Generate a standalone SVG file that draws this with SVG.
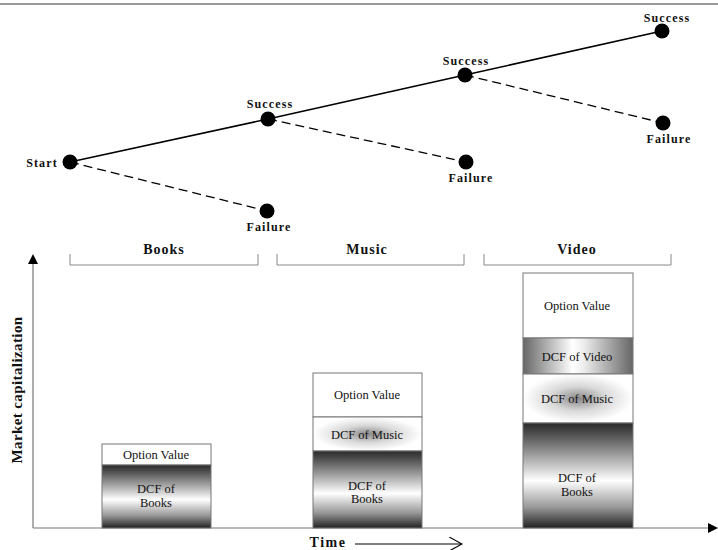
<svg xmlns="http://www.w3.org/2000/svg" width="718" height="550" viewBox="0 0 718 550">
<style>
.lbl{font-family:"Liberation Serif","Times New Roman",serif;font-weight:bold;font-size:12px;letter-spacing:1.1px;fill:#111;text-anchor:middle}
.hdr{font-family:"Liberation Serif","Times New Roman",serif;font-weight:bold;font-size:14px;letter-spacing:1px;fill:#111;text-anchor:middle}
.bt{font-family:"Liberation Serif","Times New Roman",serif;font-size:12.5px;fill:#111;text-anchor:middle}
.node{fill:#000}
.solid{stroke:#000;stroke-width:1.6;fill:none}
.dash{stroke:#000;stroke-width:1.3;fill:none;stroke-dasharray:9 5}
.brk{stroke:#888;stroke-width:1;fill:none}
.box{stroke:#777;stroke-width:1}
.axis{stroke:#777;stroke-width:1.2;fill:none}
</style>
<defs>
<linearGradient id="gBooks" x1="0" y1="0" x2="0" y2="1">
<stop offset="0" stop-color="#2a2a2a"/>
<stop offset="0.12" stop-color="#555"/>
<stop offset="0.55" stop-color="#fff"/>
<stop offset="0.8" stop-color="#999"/>
<stop offset="1" stop-color="#222"/>
</linearGradient>
<linearGradient id="gVideo" x1="0" y1="0" x2="1" y2="0">
<stop offset="0" stop-color="#666"/>
<stop offset="0.45" stop-color="#fff"/>
<stop offset="0.55" stop-color="#eee"/>
<stop offset="1" stop-color="#666"/>
</linearGradient>
<radialGradient id="gMusic" cx="0.5" cy="0.5" r="0.5">
<stop offset="0" stop-color="#888"/>
<stop offset="0.5" stop-color="#d8d8d8"/>
<stop offset="1" stop-color="#fff"/>
</radialGradient>
<marker id="open" viewBox="0 0 12 12" refX="11" refY="6" markerWidth="14" markerHeight="14" orient="auto" markerUnits="userSpaceOnUse">
<path d="M0,0 L11,6 L0,12" fill="none" stroke="#000" stroke-width="1"/>
</marker>
</defs>
<rect width="718" height="550" fill="#fff"/>
<line x1="0" y1="4" x2="718" y2="4" stroke="#777" stroke-width="1.5"/>

<g id="connectors">
<polyline class="solid" points="70,162 268,119 465,75 662,31"/>
<line class="dash" x1="70" y1="162" x2="267" y2="211"/>
<line class="dash" x1="268" y1="119" x2="466" y2="162"/>
<line class="dash" x1="465" y1="75" x2="663" y2="123"/>
</g>

<g id="start"><circle class="node" cx="70" cy="162" r="7.5"/><text class="lbl" x="42" y="167">Start</text></g>
<g id="failure1"><circle class="node" cx="267" cy="211" r="7.5"/><text class="lbl" x="269" y="231">Failure</text></g>
<g id="success1"><circle class="node" cx="268" cy="119" r="7.5"/><text class="lbl" x="270" y="108">Success</text></g>
<g id="failure2"><circle class="node" cx="466" cy="162" r="7.5"/><text class="lbl" x="471" y="182">Failure</text></g>
<g id="success2"><circle class="node" cx="465" cy="75" r="7.5"/><text class="lbl" x="466" y="65">Success</text></g>
<g id="failure3"><circle class="node" cx="663" cy="123" r="7.5"/><text class="lbl" x="669" y="143">Failure</text></g>
<g id="success3"><circle class="node" cx="662" cy="31" r="7.5"/><text class="lbl" x="667" y="22">Success</text></g>

<g id="brackets">
<path class="brk" d="M70,254 V265 H258 V254"/>
<path class="brk" d="M277,254 V265 H464 V254"/>
<path class="brk" d="M484,254 V265 H671 V254"/>
<text class="hdr" x="164" y="254">Books</text>
<text class="hdr" x="367" y="254">Music</text>
<text class="hdr" x="577" y="254">Video</text>
</g>

<g id="axes">
<line class="axis" x1="33" y1="528" x2="33" y2="262"/>
<path d="M28,264 L33,254 L38,264 z" fill="#000"/>
<line class="axis" x1="33" y1="528" x2="712" y2="528"/>
<path d="M708,523 L718,528 L708,533 z" fill="#000"/>
<text class="hdr" transform="translate(22,390) rotate(-90)" style="font-size:15px;letter-spacing:0.4px">Market capitalization</text>
<text class="hdr" x="328" y="547" style="letter-spacing:1.5px">Time</text>
<line x1="355" y1="544" x2="462" y2="544" stroke="#000" stroke-width="1" marker-end="url(#open)"/>
</g>

<g id="bar1">
<rect class="box" x="102" y="444" width="109" height="21" fill="#fff"/>
<rect class="box" x="102" y="465" width="109" height="63" fill="url(#gBooks)"/>
<text class="bt" x="156" y="459">Option Value</text>
<text class="bt" x="156" y="493">DCF of</text>
<text class="bt" x="156" y="507">Books</text>
</g>

<g id="bar2">
<rect class="box" x="313" y="373" width="109" height="44" fill="#fff"/>
<rect class="box" x="313" y="417" width="109" height="34" fill="url(#gMusic)"/>
<rect class="box" x="313" y="451" width="109" height="77" fill="url(#gBooks)"/>
<text class="bt" x="367" y="399">Option Value</text>
<text class="bt" x="367" y="439">DCF of Music</text>
<text class="bt" x="367" y="490">DCF of</text>
<text class="bt" x="367" y="503">Books</text>
</g>

<g id="bar3">
<rect class="box" x="523" y="273" width="110" height="65" fill="#fff"/>
<rect class="box" x="523" y="338" width="110" height="36" fill="url(#gVideo)"/>
<rect class="box" x="523" y="374" width="110" height="49" fill="url(#gMusic)"/>
<rect class="box" x="523" y="423" width="110" height="105" fill="url(#gBooks)"/>
<text class="bt" x="577" y="310">Option Value</text>
<text class="bt" x="577" y="361">DCF of Video</text>
<text class="bt" x="577" y="403">DCF of Music</text>
<text class="bt" x="577" y="482">DCF of</text>
<text class="bt" x="577" y="496">Books</text>
</g>
</svg>
